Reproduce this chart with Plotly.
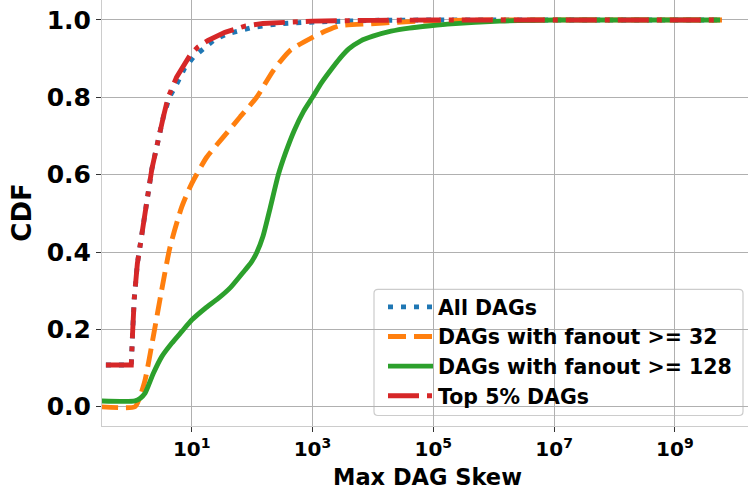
import plotly.graph_objects as go

# ---- data ----
series_names = ["All DAGs", "DAGs with fanout >= 32", "DAGs with fanout >= 128", "Top 5% DAGs"]

all_x = [0.38, 1.0, 1.05, 1.12, 1.26, 1.69, 1.90, 2.19, 3.39, 4.27, 6.03, 7.6, 10.7, 15.5, 22.9,
         38.0, 63.1, 105, 269, 794, 10000, 100000, 6.0e9]
all_y = [0.108, 0.108, 0.19, 0.28, 0.37, 0.50, 0.57, 0.615, 0.749, 0.80, 0.843, 0.875, 0.904,
         0.925, 0.947, 0.964, 0.972, 0.981, 0.99, 0.994, 0.999, 1.0, 1.0]

f32_x = [0.30, 1.15, 1.35, 1.69, 2.31, 3.18, 4.38, 6.82, 10, 17.7, 33.3, 63.1, 119, 224, 424,
         1000, 1718, 2851, 8913, 24547, 1e5, 1e6, 6.0e9]
f32_y = [0.0, 0.0, 0.02, 0.069, 0.181, 0.301, 0.413, 0.516, 0.577, 0.645, 0.697, 0.749, 0.80,
         0.869, 0.921, 0.955, 0.9725, 0.9855, 0.99, 0.994, 0.998, 1.0, 1.0]

f128_x = [0.30, 1.15, 1.41, 1.69, 2.31, 3.18, 4.67, 6.82, 10, 16.6, 27.5, 43.7, 75.9, 95.5,
          119, 151, 200, 272, 355, 501, 708, 1000, 1413, 1995, 2818, 3981, 6310, 10000, 19953,
          39811, 89125, 199526, 1.26e6, 1e7, 5.6e9]
f128_y = [0.015, 0.015, 0.022, 0.035, 0.086, 0.129, 0.164, 0.194, 0.224, 0.254, 0.28, 0.308,
          0.353, 0.372, 0.398, 0.44, 0.515, 0.60, 0.655, 0.715, 0.763, 0.80, 0.838, 0.87, 0.90,
          0.925, 0.946, 0.958, 0.971, 0.979, 0.985, 0.99, 0.997, 1.0, 1.0]

top_x = [0.38, 1.0, 1.05, 1.12, 1.26, 1.69, 1.90, 2.19, 3.39, 4.07, 5.62, 7.08, 9.33, 12.6,
         18.6, 35.5, 75.9, 151, 1000, 10000, 100000, 6.0e9]
top_y = [0.108, 0.108, 0.19, 0.28, 0.37, 0.50, 0.57, 0.615, 0.749, 0.80, 0.852, 0.88, 0.908,
         0.93, 0.947, 0.968, 0.984, 0.991, 0.997, 0.999, 1.0, 1.0]

x_tickvals = [1e1, 1e3, 1e5, 1e7, 1e9]
x_ticktext = ["10<sup>1</sup>", "10<sup>3</sup>", "10<sup>5</sup>", "10<sup>7</sup>", "10<sup>9</sup>"]

colors = ["#1f77b4", "#ff7f0e", "#2ca02c", "#d62728"]
dashes = ["5px,8px", "18px,8px", "solid", "31px,8px,5px,8px"]
shapes_ = ["linear", "spline", "spline", "linear"]
xs = [all_x, f32_x, f128_x, top_x]
ys = [all_y, f32_y, f128_y, top_y]

FONT = "DejaVu Sans"
W, H = 748, 492
L, R, T, B = 102, 0, 0, 66
PW, PH = W - L - R, H - T - B


def px_x(p):
    return (p - L) / PW


def px_y(p):
    return (T + PH - p) / PH


fig = go.Figure()
for i in range(4):
    fig.add_trace(go.Scatter(
        x=xs[i], y=ys[i], mode="lines", name=series_names[i],
        line=dict(color=colors[i], width=4.9, dash=dashes[i],
                  shape=shapes_[i], smoothing=0.6),
    ))

# legend frame (rounded, semi-transparent) drawn between grid and traces
x0, x1, y0, y1, r = 374, 743, 289.3, 415.5, 4
frame = (f"M{px_x(x0 + r)},{px_y(y0)} L{px_x(x1 - r)},{px_y(y0)} "
         f"Q{px_x(x1)},{px_y(y0)} {px_x(x1)},{px_y(y0 + r)} L{px_x(x1)},{px_y(y1 - r)} "
         f"Q{px_x(x1)},{px_y(y1)} {px_x(x1 - r)},{px_y(y1)} L{px_x(x0 + r)},{px_y(y1)} "
         f"Q{px_x(x0)},{px_y(y1)} {px_x(x0)},{px_y(y1 - r)} L{px_x(x0)},{px_y(y0 + r)} "
         f"Q{px_x(x0)},{px_y(y0)} {px_x(x0 + r)},{px_y(y0)} Z")

fig.update_layout(
    width=W, height=H,
    margin=dict(l=L, r=R, t=T, b=B, autoexpand=False),
    paper_bgcolor="white", plot_bgcolor="white",
    font=dict(family=FONT, color="black"),
    showlegend=True,
    legend=dict(
        x=px_x(383), xanchor="left",
        y=px_y(416), yanchor="bottom",
        bgcolor="rgba(0,0,0,0)", borderwidth=0,
        font=dict(family=FONT, size=20.5, weight="bold", color="black"),
        traceorder="normal",
        itemwidth=45,
    ),
    shapes=[dict(type="path", path=frame, xref="paper", yref="paper", layer="between",
                 fillcolor="rgba(255,255,255,0.8)", line=dict(color="#cccccc", width=1.2))],
    xaxis=dict(
        type="log", range=[-0.485, 10.21],
        tickvals=x_tickvals, ticktext=x_ticktext,
        tickfont=dict(family=FONT, size=20, weight="bold", color="black"),
        showgrid=True, gridcolor="#b0b0b0", gridwidth=1,
        showline=True, linecolor="#cccccc", linewidth=1, mirror=True,
        ticks="outside", ticklen=5, tickwidth=1, tickcolor="#333333",
        zeroline=False,
    ),
    yaxis=dict(
        range=[-0.0498, 1.0516],
        tick0=0, dtick=0.2, tickformat=".1f",
        tickfont=dict(family=FONT, size=25, weight="bold", color="black"),
        showgrid=True, gridcolor="#b0b0b0", gridwidth=1,
        showline=True, linecolor="#cccccc", linewidth=1, mirror=False,
        ticks="outside", ticklen=5, tickwidth=1, tickcolor="#333333",
        zeroline=False,
    ),
    annotations=[
        dict(text="CDF", textangle=-90, xref="paper", yref="paper",
             x=px_x(21.7), y=0.5, xanchor="center", yanchor="middle",
             showarrow=False, font=dict(family=FONT, size=26, weight="bold", color="black")),
        dict(text="Max DAG Skew", xref="paper", yref="paper",
             x=px_x(427), y=px_y(477), xanchor="center", yanchor="middle",
             showarrow=False, font=dict(family=FONT, size=22.5, weight="bold", color="black")),
    ],
)

fig.write_html("out.html", config={"displayModeBar": False},
               post_script="document.body.style.margin='0px';document.body.style.overflow='hidden';")
